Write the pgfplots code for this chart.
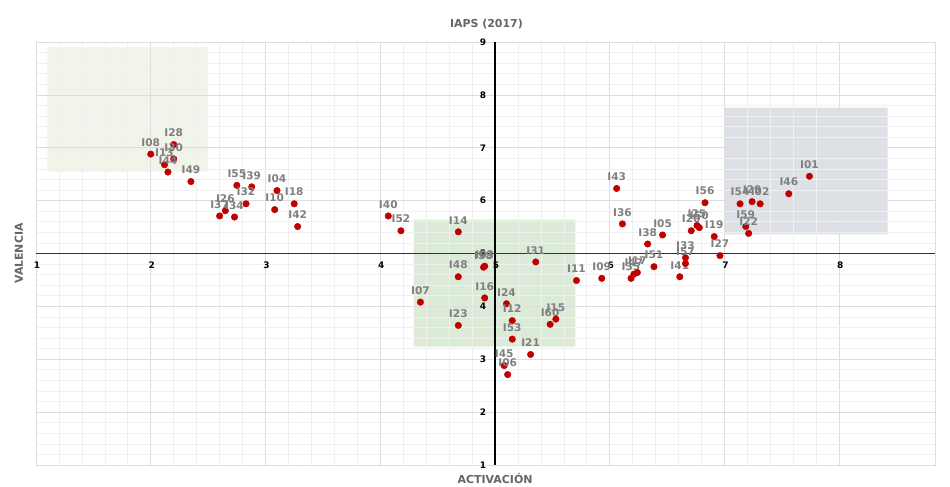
\documentclass[border=0pt]{standalone}
\usepackage{pgfplots}
\pgfplotsset{compat=1.18}
\usepackage{pgfplotstable}
\usepackage{fontspec}
\setmainfont{DejaVu Sans}
\definecolor{dotred}{HTML}{C00000}
\definecolor{lblgray}{HTML}{7F7F7F}
\definecolor{ttlgray}{HTML}{666666}
\definecolor{rectA}{HTML}{F1F5E9}
\definecolor{rectB}{HTML}{DBEBD7}
\definecolor{rectC}{HTML}{DDE0E4}
\definecolor{gridmin}{HTML}{F0F0F0}
\definecolor{gridmaj}{HTML}{DEDEDE}

\pgfplotstableread{
x y lab
2.00 6.88 I08
2.20 7.06 I28
2.20 6.79 I30
2.12 6.68 I13
2.15 6.54 I44
2.35 6.36 I49
2.75 6.29 I55
2.88 6.26 I39
2.83 5.94 I32
2.65 5.81 I26
2.60 5.71 I37
2.73 5.69 I34
3.10 6.19 I04
3.08 5.83 I10
3.25 5.94 I18
3.28 5.51 I42
4.07 5.71 I40
4.18 5.43 I52
4.68 5.41 I14
4.90 4.74 I58
4.91 4.76 I03
4.68 4.56 I48
4.35 4.08 I07
4.91 4.16 I16
4.68 3.64 I23
5.355 4.84 I31
5.71 4.49 I11
5.93 4.53 I09
5.10 4.05 I24
5.15 3.73 I12
5.48 3.66 I60
5.53 3.76 I15
5.15 3.38 I53
5.31 3.09 I21
5.08 2.88 I45
5.11 2.71 I06
6.11 5.56 I36
6.06 6.23 I43
6.33 5.18 I38
6.46 5.35 I05
6.385 4.75 I51
6.185 4.53 I35
6.21 4.61 I47
6.24 4.64 I17
6.61 4.56 I41
6.66 4.92 I33
6.66 4.81 I57
6.71 5.43 I20
6.76 5.53 I25
6.78 5.49 I50
6.83 5.96 I56
6.91 5.32 I19
6.96 4.96 I27
7.135 5.94 I54
7.24 5.98 I29
7.31 5.94 I02
7.185 5.51 I59
7.21 5.38 I22
7.74 6.46 I01
7.56 6.13 I46
}\pts

\begin{document}
\begin{tikzpicture}
\begin{axis}[
 set layers,
 scale only axis, width=899bp, height=423bp,
 xmin=1, xmax=8.834, ymin=1, ymax=9,
 xtick={1,...,8}, ytick={1,...,9}, minor tick num=4,
 xticklabels={}, yticklabels={},
 major tick length=0pt, minor tick length=0pt,
 grid=both,
 major grid style={draw=gridmaj, line width=0.7pt},
 minor grid style={draw=gridmin, line width=0.7pt},
 axis line style={draw=gridmaj},
 clip=false,
]
\addplot[fill=rectA, draw=none, on layer=axis background] coordinates {(1.1,6.55) (2.5,6.55) (2.5,8.9) (1.1,8.9) (1.1,6.55)};
\addplot[fill=rectB, draw=none, on layer=axis background] coordinates {(4.29,3.24) (5.7,3.24) (5.7,5.64) (4.29,5.64) (4.29,3.24)};
\addplot[fill=rectC, draw=none, on layer=axis background] coordinates {(7.0,5.36) (8.42,5.36) (8.42,7.76) (7.0,7.76) (7.0,5.36)};

\draw[black, line width=1.1pt] (axis cs:5,1) -- (axis cs:5,9);
\draw[black!80, line width=1.1pt] (axis cs:1,5) -- (axis cs:8.834,5);

\pgfplotsinvokeforeach{1,...,8}{
  \node[font=\bfseries\fontsize{9}{9}\selectfont, text=black] at (axis cs:#1,5) [yshift=-12bp, xshift=1bp] {#1};
}
\pgfplotsinvokeforeach{1,...,9}{
  \node[font=\bfseries\fontsize{9}{9}\selectfont, text=black] at (axis cs:5,#1) [xshift=-12bp] {#1};
}

\addplot[only marks, mark=*, mark size=3.3pt, mark options={fill=dotred, draw=dotred},
  point meta=explicit symbolic, nodes near coords,
  nodes near coords style={font=\bfseries\fontsize{10.6}{10.6}\selectfont, text=lblgray, anchor=south, inner sep=0pt, yshift=7.5bp}]
  table[x=x, y=y, meta=lab]{\pts};

\node[font=\bfseries\fontsize{11}{11}\selectfont, text=ttlgray] at (rel axis cs:0.501,1) [yshift=18bp] {IAPS (2017)};
\node[font=\bfseries\fontsize{11}{11}\selectfont, text=ttlgray] at (axis cs:5,1) [yshift=-13bp] {ACTIVACIÓN};
\node[font=\bfseries\fontsize{11}{11}\selectfont, text=ttlgray, rotate=90] at ([xshift=-17bp]axis cs:1,5) {VALENCIA};

\coordinate (bl) at (rel axis cs:0,0);
\coordinate (tr) at (rel axis cs:1,1);
\end{axis}
\path ([shift={(-36bp,-20bp)}]bl) rectangle ([shift={(15bp,42bp)}]tr);
\end{tikzpicture}
\end{document}
